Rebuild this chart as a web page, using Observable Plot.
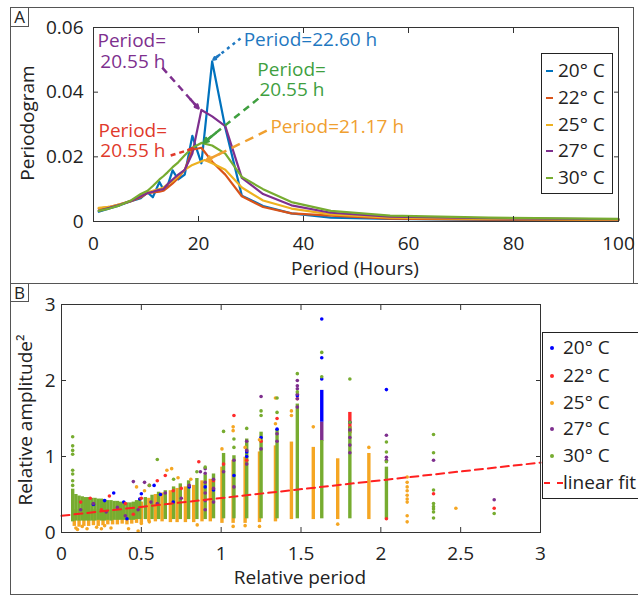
<!DOCTYPE html>
<html><head><meta charset="utf-8">
<script src="https://cdn.jsdelivr.net/npm/d3@7"></script>
<script src="https://cdn.jsdelivr.net/npm/@observablehq/plot@0.6"></script>
<style>
body{margin:0;background:#fff;font-family:"Open Sans",sans-serif;}
#root{position:relative;width:638px;height:595px;overflow:hidden;background:#fff}
.panel{position:absolute;border:1.5px solid #555;box-sizing:border-box}
.tag{position:absolute;border:1.2px solid #555;font-size:17px;line-height:18px;text-align:center;color:#222;box-sizing:border-box}
.lbl{position:absolute;font-size:19px;color:#222;white-space:nowrap;transform:translate(-50%,-50%)}
.rot{transform:translate(-50%,-50%) rotate(-90deg)}
.legend{position:absolute;border:1.2px solid #222;background:#fff;box-sizing:border-box}
.row{position:absolute;font-size:19px;color:#222;white-space:nowrap;height:26px;line-height:26px}
.svgwrap{position:absolute;left:0}
</style></head>
<body><div id="root"></div>
<script>
// ---------- shared ----------
const tempLabels = ["20° C","22° C","25° C","27° C","30° C"];
const lineColors = ["#0072BD","#D95319","#EDB120","#7E2F8E","#77AC30"];
const dotColors  = ["#0000FF","#FF2A2A","#F5A623","#7E2F8E","#77AC30"];

// ---------- panel A : periodogram ----------
const xTicksA = [0,20,40,60,80,100];
const yTicksA = [0,0.02,0.04,0.06];
const periodsA = [1,3,5,7,9,10.3,11.3,12.56,13.3,14.1,15.07,16.14,17.38,18.83,20.55,21.17,22.6,25.1,28.25,32.3,37.7,45.2,56.5,75.3,100];
const pgram20 = [0.0030,0.0040,0.0050,0.0062,0.0072,0.0090,0.0075,0.0122,0.0100,0.0110,0.0158,0.0130,0.0145,0.0265,0.0180,null,0.0495,0.0290,0.0080,0.0048,0.0025,0.0012,0.0008,0.0005,0.0004];
const pgram22 = [0.0040,0.0045,0.0053,0.0062,0.0075,0.0088,0.0090,0.0092,0.0095,0.0105,0.0118,0.0135,0.0160,0.0222,0.0228,null,0.0185,0.0145,0.0078,0.0045,0.0025,0.0018,0.0009,0.0006,0.0005];
const pgram25 = [0.0042,0.0045,0.0053,0.0063,0.0080,0.0090,0.0095,0.0100,0.0105,0.0115,0.0125,0.0140,0.0160,0.0175,null,0.0190,0.0180,0.0160,0.0105,0.0065,0.0040,0.0022,0.0012,0.0008,0.0006];
const pgram27 = [0.0033,0.0042,0.0052,0.0063,0.0078,0.0088,0.0092,0.0098,0.0100,0.0115,0.0130,0.0145,0.0160,0.0210,0.0345,null,0.0325,0.0295,0.0135,0.0085,0.0050,0.0027,0.0015,0.0010,0.0007];
const pgram30 = [0.0033,0.0040,0.0050,0.0064,0.0085,0.0095,0.0110,0.0130,0.0140,0.0152,0.0168,0.0183,0.0205,0.0228,0.0243,null,0.0235,0.0210,0.0138,0.0100,0.0060,0.0033,0.0018,0.0012,0.0008];

// annotation text lines (one entry per line)
const annText  = ["Period=22.60 h","Period=","20.55 h","Period=","20.55 h","Period=21.17 h","Period=","20.55 h"];
const annColor = ["#1F78C1","#7E2F8E","#7E2F8E","#3F9F3F","#3F9F3F","#F0A030","#E0392B","#E0392B"];
const annX = [28.6, 0.76, 1.3, 31.2, 31.6, 33.7, 0.95, 1.3];
const annY = [0.0586, 0.0580, 0.0518, 0.0493, 0.0431, 0.0314, 0.0302, 0.0240];
const arrX1 = [28.0, 13.1, 31.4, 33.0, 14.7];
const arrY1 = [0.0566, 0.0476, 0.0380, 0.0281, 0.0204];
const arrX2 = [22.86, 20.0, 21.0, 21.5, 19.0];
const arrY2 = [0.0501, 0.0350, 0.0244, 0.0189, 0.0226];
const arrColor = ["#1F78C1","#7E2F8E","#3F9F3F","#F0A030","#E0392B"];
const arrDash = ["3,4","7,5","7,5","9,6","5,4"];

// ---------- panel B : scatter ----------
const xTicksB = [0,0.5,1,1.5,2,2.5,3];
const yTicksB = [0,1,2,3];
const fitX = [0, 3];
const fitY = [0.22, 0.92];

// dense column strips (x, low, high) per temperature
const stripX20 = [1.63];
const stripLo20 = [1.45];
const stripHi20 = [1.87];
const stripX22 = [1.806];
const stripLo22 = [1.30];
const stripHi22 = [1.58];
const stripX25 = [0.08,0.11,0.14,0.17,0.20,0.23,0.26,0.29,0.32,0.35,0.38,0.41,0.44,0.47,0.50,0.547,0.588,0.63,0.682,0.724,0.776,0.828,0.88,0.932,1.005,1.075,1.15,1.24,1.34,1.44,1.577,1.73,1.925];
const stripLo25 = [0.08,0.07,0.08,0.08,0.09,0.08,0.09,0.10,0.10,0.10,0.11,0.10,0.11,0.12,0.12,0.14,0.14,0.14,0.13,0.13,0.13,0.13,0.14,0.14,0.12,0.12,0.12,0.13,0.14,0.17,0.17,0.17,0.17];
const stripHi25 = [0.30,0.30,0.30,0.30,0.30,0.30,0.30,0.30,0.30,0.30,0.30,0.30,0.32,0.34,0.40,0.45,0.50,0.52,0.55,0.58,0.60,0.62,0.68,0.70,0.86,0.95,0.99,1.06,1.14,1.19,1.12,0.97,1.04];
const stripX27 = [1.63];
const stripLo27 = [1.20];
const stripHi27 = [1.45];
const stripX30 = [0.07,0.09,0.11,0.13,0.15,0.17,0.19,0.21,0.23,0.25,0.27,0.29,0.31,0.33,0.35,0.37,0.39,0.41,0.43,0.45,0.47,0.49,0.525,0.567,0.608,0.65,0.702,0.744,0.796,0.848,0.9,0.952,1.015,1.08,1.16,1.25,1.35,1.477,1.63,1.806,2.035];
const stripLo30 = [0.14,0.15,0.15,0.15,0.15,0.15,0.15,0.15,0.16,0.15,0.15,0.16,0.15,0.16,0.16,0.16,0.16,0.16,0.16,0.16,0.17,0.17,0.17,0.17,0.17,0.17,0.17,0.17,0.17,0.17,0.17,0.18,0.18,0.18,0.18,0.18,0.18,0.18,0.18,0.18,0.18];
const stripHi30 = [0.57,0.50,0.48,0.47,0.46,0.46,0.45,0.45,0.44,0.44,0.43,0.42,0.42,0.41,0.41,0.40,0.40,0.39,0.39,0.40,0.42,0.44,0.46,0.49,0.53,0.55,0.60,0.64,0.68,0.71,0.76,0.77,1.04,1.01,1.23,1.32,1.36,1.69,1.21,1.39,0.86];

// individual visible points per temperature
const outX20 = [1.63,1.63,1.63,2.035,1.35,1.16,1.16,0.952,0.9,1.08,0.327,0.50,0.49,0.27,0.39,0.41,0.20,0.58,0.62,0.80,1.806,1.25,1.477,0.70];
const outY20 = [2.81,2.30,2.02,1.88,1.36,1.06,1.00,0.56,0.60,0.75,0.52,0.51,0.44,0.42,0.40,0.18,0.37,0.62,0.50,0.60,1.45,1.25,1.80,0.40];
const outX22 = [1.08,1.35,2.33,2.71,2.035,0.86,0.65,0.60,0.30,0.40,0.18,0.25,0.50,0.70,0.75,1.16,1.25,1.477,0.952,1.015,0.55,0.12,0.45];
const outY22 = [1.54,1.50,0.51,0.32,0.18,0.93,0.75,0.68,0.48,0.38,0.45,0.30,0.45,0.55,0.58,0.95,1.20,1.76,0.68,0.90,0.62,0.40,0.24];
const outX25 = [0.09,0.10,0.13,0.16,0.22,0.25,0.27,0.31,0.42,0.50,0.55,0.47,0.52,0.66,0.69,0.73,0.81,1.005,1.075,1.075,1.15,1.24,1.34,1.34,1.44,1.44,1.577,1.925,2.165,2.165,2.165,2.165,2.165,2.165,2.165,2.165,2.165,2.47,1.73,1.24,1.075,0.85,1.15,0.48];
const outY25 = [0.06,0.04,0.08,0.05,0.07,0.05,0.09,0.06,0.05,0.12,0.14,0.60,0.55,0.82,0.84,0.72,0.70,1.10,1.39,1.34,1.12,1.22,1.77,1.43,1.60,1.54,1.39,1.12,0.73,0.66,0.60,0.55,0.49,0.44,0.40,0.22,0.14,0.32,0.11,0.08,0.08,0.10,0.09,0.02];
const outX27 = [0.12,0.20,0.28,0.35,0.40,0.45,0.48,0.52,0.56,0.60,0.65,0.75,0.80,0.87,0.9,0.9,0.9,0.9,0.9,0.9,0.952,0.952,0.952,1.015,1.08,1.08,1.16,1.16,1.16,1.25,1.25,1.35,1.35,1.477,1.477,1.477,1.477,1.477,1.477,1.806,1.806,1.806,1.806,2.035,2.035,2.035,2.33,2.71];
const outY27 = [0.30,0.38,0.27,0.33,0.22,0.67,0.30,0.66,0.40,0.38,0.52,0.45,0.62,0.80,0.84,0.78,0.66,0.52,0.42,0.30,0.70,0.58,0.40,0.80,0.95,0.60,1.08,1.20,0.90,1.79,1.10,1.30,1.20,2.00,1.93,1.89,1.82,1.76,1.65,1.35,1.25,1.15,1.05,1.28,0.99,0.95,0.95,0.43];
const outX30 = [0.07,0.07,0.07,0.07,0.07,0.07,0.07,0.07,0.60,0.55,0.702,0.848,0.9,1.015,1.08,1.08,1.16,1.25,1.25,1.35,1.35,1.477,1.477,1.63,1.63,1.806,1.806,2.035,2.035,2.035,2.33,2.33,2.33,2.33,2.33,2.33,2.33,2.33,2.71];
const outY30 = [1.26,1.14,1.08,1.03,0.82,0.77,0.68,0.62,0.96,0.62,0.70,0.80,0.86,1.33,1.23,1.12,1.37,1.60,1.54,1.77,1.58,2.09,1.85,2.37,2.05,2.02,1.45,1.19,1.06,0.93,1.29,1.05,0.56,0.38,0.34,0.31,0.27,0.19,0.25];

// ---------- build tables ----------
const seriesA = [pgram20,pgram22,pgram25,pgram27,pgram30];
const curves = [];
seriesA.forEach((arr,i)=>arr.forEach((v,j)=>{ if(v!=null) curves.push({temp:tempLabels[i], period:periodsA[j], value:v}); }));
const anns = annText.map((t,i)=>({text:t, x:annX[i], y:annY[i], color:annColor[i]}));
const arrows = arrX1.map((x1,i)=>({x1, y1:arrY1[i], x2:arrX2[i], y2:arrY2[i], color:arrColor[i], dash:arrDash[i]}));

const sx = [stripX20,stripX22,stripX25,stripX27,stripX30];
const slo = [stripLo20,stripLo22,stripLo25,stripLo27,stripLo30];
const shi = [stripHi20,stripHi22,stripHi25,stripHi27,stripHi30];
const strips = [];
sx.forEach((xs,i)=>xs.forEach((x,j)=>strips.push({temp:tempLabels[i], x, lo:slo[i][j], hi:shi[i][j]})));
const ox = [outX20,outX22,outX25,outX27,outX30];
const oy = [outY20,outY22,outY25,outY27,outY30];
const pts = [];
ox.forEach((xs,i)=>xs.forEach((x,j)=>pts.push({temp:tempLabels[i], x, y:oy[i][j]})));
const fit = fitX.map((x,i)=>({x, y:fitY[i]}));

const baseStyle = {fontFamily:"Open Sans, sans-serif", fontSize:"19px", color:"#222", background:"transparent", overflow:"visible"};

function frameAxes(xt, yt, xfmt, yfmt, xpad, ypad){
  return [
    Plot.frame({stroke:"#333", strokeWidth:1}),
    Plot.axisX({anchor:"bottom", ticks:xt, tickSize:-5, tickPadding:xpad, tickFormat:xfmt, label:null, stroke:"#333"}),
    Plot.axisX({anchor:"top", ticks:xt, tickSize:-5, tickFormat:()=>"", label:null, stroke:"#333"}),
    Plot.axisY({anchor:"left", ticks:yt, tickSize:-5, tickPadding:ypad, tickFormat:yfmt, label:null, stroke:"#333"}),
    Plot.axisY({anchor:"right", ticks:yt, tickSize:-5, tickFormat:()=>"", label:null, stroke:"#333"})
  ];
}

// ---------- Plot A ----------
const linkMarks = arrows.map(a => Plot.link([a], {x1:"x1", y1:"y1", x2:"x2", y2:"y2", stroke:a.color, strokeWidth:2.5, strokeDasharray:a.dash}));
const headMarks = arrows.map(a => Plot.arrow([a], {
  x1: d => d.x2 - 0.22*(d.x2-d.x1), y1: d => d.y2 - 0.22*(d.y2-d.y1), x2:"x2", y2:"y2",
  stroke:a.color, strokeWidth:2.5, headLength:9, headAngle:50}));

const plotA = Plot.plot({
  width:638, height:283, marginTop:27, marginRight:20, marginBottom:62, marginLeft:93,
  x:{domain:[0,100]}, y:{domain:[0,0.06]},
  color:{domain:tempLabels, range:lineColors},
  style: baseStyle,
  marks:[
    Plot.line(curves, {x:"period", y:"value", stroke:"temp", z:"temp", strokeWidth:2.2}),
    ...linkMarks, ...headMarks,
    Plot.text(anns, {x:"x", y:"y", text:"text", fill:"color", textAnchor:"start", lineAnchor:"top", fontSize:19}),
    ...frameAxes(xTicksA, yTicksA, d=>String(d), d=> d===0 ? "0" : d.toFixed(2), 20, 15)
  ]
});

// ---------- Plot B ----------
const plotB = Plot.plot({
  width:638, height:311, marginTop:20, marginRight:98, marginBottom:63, marginLeft:61,
  x:{domain:[0,3]}, y:{domain:[0,3]},
  color:{domain:tempLabels, range:dotColors},
  style: baseStyle,
  marks:[
    Plot.ruleX(strips, {x:"x", y1:"lo", y2:"hi", stroke:"temp", strokeWidth:3.4}),
    Plot.dot(pts, {x:"x", y:"y", fill:"temp", r:1.8}),
    Plot.line(fit, {x:"x", y:"y", stroke:"#FF2020", strokeWidth:2, strokeDasharray:"8,5"}),
    ...frameAxes(xTicksB, yTicksB, d=>String(d), d=>String(d), 19, 11)
  ]
});

// ---------- assemble ----------
const root = document.getElementById("root");
function el(tag, cls, css, html){ const e=document.createElement(tag); if(cls) e.className=cls; Object.assign(e.style, css||{}); if(html!=null) e.textContent=html; root.appendChild(e); return e; }

el("div","panel",{left:"10px",top:"7px",width:"624px",height:"277px"});
el("div","panel",{left:"10px",top:"283px",width:"640px",height:"312px"});

const wa = el("div","svgwrap",{top:"0px"}); wa.appendChild(plotA);
const wb = el("div","svgwrap",{top:"284px"}); wb.appendChild(plotB);

el("div","tag",{left:"10px",top:"7px",width:"19px",height:"20px"},"A");
el("div","tag",{left:"10px",top:"283px",width:"19px",height:"19px"},"B");

el("div","lbl rot",{left:"27px",top:"123px"},"Periodogram");
el("div","lbl",{left:"355px",top:"268px"},"Period (Hours)");
el("div","lbl rot",{left:"25px",top:"420px"},"Relative amplitude²");
el("div","lbl",{left:"300px",top:"577px"},"Relative period");

// legend A
const legA = el("div","legend",{left:"541px",top:"53px",width:"72px",height:"141px"});
const rowA = [17,44,71,97,124];
tempLabels.forEach((t,i)=>{
  const m=document.createElement("div"); Object.assign(m.style,{position:"absolute",left:"4px",top:(rowA[i]-1)+"px",width:"7px",height:"2px",background:lineColors[i]}); legA.appendChild(m);
  const r=document.createElement("div"); r.className="row"; Object.assign(r.style,{left:"16px",top:(rowA[i]-14)+"px"}); r.textContent=t; legA.appendChild(r);
});
// legend B
const legB = el("div","legend",{left:"542px",top:"332px",width:"110px",height:"167px"});
const rowB = [15,43,70,96,123,150];
tempLabels.forEach((t,i)=>{
  const m=document.createElement("div"); Object.assign(m.style,{position:"absolute",left:"7px",top:(rowB[i]-2)+"px",width:"4px",height:"4px",borderRadius:"2px",background:dotColors[i]}); legB.appendChild(m);
  const r=document.createElement("div"); r.className="row"; Object.assign(r.style,{left:"20px",top:(rowB[i]-14)+"px"}); r.textContent=t; legB.appendChild(r);
});
{
  const m=document.createElement("div"); Object.assign(m.style,{position:"absolute",left:"1px",top:(rowB[5]-1)+"px",width:"19px",height:"0px",borderTop:"2px dashed #FF2020"}); legB.appendChild(m);
  const r=document.createElement("div"); r.className="row"; Object.assign(r.style,{left:"20px",top:(rowB[5]-14)+"px"}); r.textContent="linear fit"; legB.appendChild(r);
}
</script></body></html>
